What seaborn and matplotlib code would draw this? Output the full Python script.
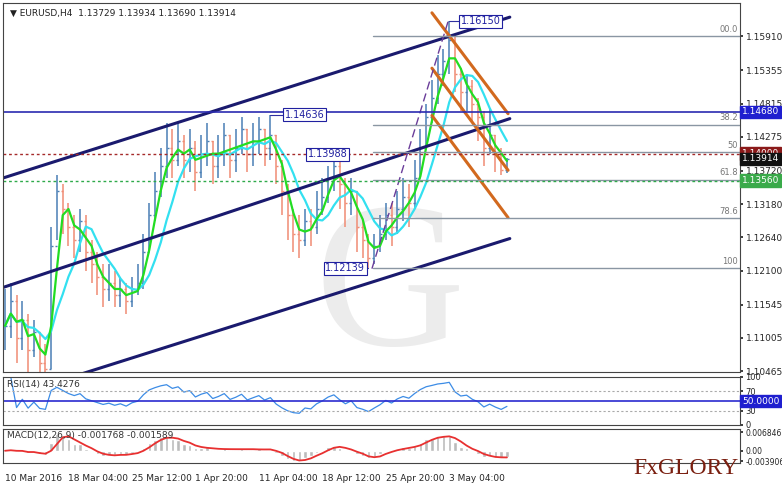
import matplotlib
matplotlib.use("Agg")
import matplotlib.pyplot as plt
import seaborn as sns
import numpy as np
import pandas as pd

sns.set_theme(style="white")
plt.rcParams['font.family'] = ['DejaVu Sans']

closes = [1.112,1.116,1.110,1.113,1.108,1.111,1.106,1.105,1.125,1.134,1.131,1.128,1.126,1.129,1.124,1.122,
          1.120,1.118,1.119,1.117,1.118,1.116,1.118,1.119,1.124,1.130,1.134,1.138,1.141,1.139,1.142,1.139,
          1.141,1.137,1.140,1.142,1.138,1.140,1.143,1.139,1.141,1.144,1.140,1.142,1.144,1.141,1.143,1.138,
          1.134,1.130,1.127,1.126,1.129,1.128,1.131,1.133,1.136,1.138,1.135,1.132,1.134,1.128,1.126,1.123,
          1.125,1.127,1.130,1.128,1.131,1.133,1.132,1.136,1.141,1.146,1.149,1.153,1.155,1.1585,1.153,1.150,
          1.151,1.148,1.146,1.141,1.143,1.140,1.1373,1.13914]
highs = [1.118,1.119,1.117,1.116,1.114,1.113,1.111,1.109,1.128,1.1365,1.135,1.132,1.130,1.131,1.130,1.126,
         1.124,1.122,1.122,1.121,1.120,1.119,1.120,1.122,1.127,1.132,1.137,1.141,1.145,1.144,1.145,1.143,
         1.144,1.142,1.143,1.145,1.142,1.143,1.145,1.143,1.144,1.146,1.144,1.145,1.146,1.144,1.14636,1.143,
         1.139,1.135,1.131,1.130,1.131,1.131,1.134,1.136,1.138,1.139,1.13988,1.136,1.136,1.134,1.129,1.127,
         1.127,1.130,1.132,1.132,1.134,1.136,1.135,1.139,1.144,1.148,1.152,1.156,1.157,1.1615,1.159,1.154,
         1.153,1.152,1.149,1.147,1.1475,1.143,1.141,1.13934]
lows = [1.108,1.110,1.106,1.108,1.104,1.107,1.104,1.1045,1.105,1.126,1.127,1.125,1.123,1.124,1.121,1.119,
        1.117,1.115,1.116,1.115,1.115,1.114,1.115,1.117,1.118,1.124,1.129,1.133,1.136,1.136,1.138,1.136,
        1.137,1.134,1.136,1.138,1.135,1.136,1.138,1.136,1.137,1.140,1.137,1.138,1.140,1.138,1.139,1.135,
        1.130,1.126,1.124,1.123,1.125,1.125,1.127,1.130,1.132,1.134,1.131,1.128,1.130,1.124,1.123,1.12139,
        1.122,1.124,1.126,1.125,1.127,1.129,1.128,1.131,1.136,1.141,1.145,1.148,1.151,1.153,1.150,1.147,
        1.147,1.145,1.142,1.138,1.140,1.137,1.1365,1.13690]
date_labels = ["10 Mar 2016","18 Mar 04:00","25 Mar 12:00","1 Apr 20:00","11 Apr 04:00","18 Apr 12:00","25 Apr 20:00","3 May 04:00"]
date_pos = [0,11,22,33,44,55,66,77]
price_ticks = [1.15910,1.15355,1.14815,1.14275,1.13720,1.13180,1.12640,1.12100,1.11545,1.11005,1.10465]
channel_lines = [((-0.5,1.1360),(87.5,1.1622)),((-0.5,1.1182),(87.5,1.1457)),((13.3,1.1042),(87.5,1.1262))]
orange_lines = [((74,1.1629),(87.2,1.1465)),((74,1.1539),(87.2,1.1373)),((74,1.1462),(87.2,1.1296))]
fib_levels = [1.1591,1.1447,1.1402,1.1358,1.1295,1.12139]
fib_names = ["00.0","38.2","50","61.8","78.6","100"]
point_labels = [(77,1.1615,"1.16150",79,1.1615),(46,1.14636,"1.14636",48.5,1.14636),(58,1.13988,"1.13988",52.5,1.13988),(63,1.12139,"1.12139",55.5,1.12139)]

n = len(closes)
idx = np.arange(n)
opens = [closes[0]] + closes[:-1]
df = pd.DataFrame({"i": idx, "c": closes, "o": opens, "h": highs, "l": lows})
df["ma_fast"] = df["c"].rolling(3, min_periods=1).mean()
df["ma_slow"] = df["c"].rolling(7, min_periods=1).mean()
d = df["c"].diff()
up = d.clip(lower=0).ewm(alpha=1/7).mean(); dn = (-d.clip(upper=0)).ewm(alpha=1/7).mean()
df["rsi"] = 100 - 100/(1+up/(dn+1e-9))
df["macd"] = df["c"].ewm(span=3).mean() - df["c"].ewm(span=6.5).mean()
df["sig"] = df["macd"].rolling(3, min_periods=1).mean()

W, H = 782, 486
fig = plt.figure(figsize=(W/100, H/100), dpi=100)
xl = (-0.35, 127.4)
ax = fig.add_axes([3/W, 1-372/H, 737/W, 369/H])
ar = fig.add_axes([3/W, 1-425/H, 737/W, 48/H])
am = fig.add_axes([3/W, 1-463/H, 737/W, 34/H])

ax.text(385/5.77, 1.117, "G", fontsize=150, color="#ececec", ha="center", va="center", family="Liberation Serif", zorder=0)

up_m = df["c"] >= df["o"]
for m, col in [(up_m, "#4a7fb5"), (~up_m, "#f08c74")]:
    s = df[m]
    ax.vlines(s["i"], s["l"], s["h"], color=col, lw=1.1)
    ax.hlines(s["c"], s["i"], s["i"]+0.35, color=col, lw=1)
    ax.hlines(s["o"], s["i"]-0.35, s["i"], color=col, lw=1)
sns.lineplot(data=df, x="i", y="ma_slow", ax=ax, color="#33e0f0", lw=1.6)
sns.lineplot(data=df, x="i", y="ma_fast", ax=ax, color="#22dd22", lw=1.6)

for (a, b) in channel_lines:
    ax.plot([a[0], b[0]], [a[1], b[1]], color="#1a1a6e", lw=2.2)
for (a, b) in orange_lines:
    ax.plot([a[0], b[0]], [a[1], b[1]], color="#d2691e", lw=2.2)
ax.plot([63.6, 76.8], [1.1213, 1.1615], color="#6a3d9a", lw=1, ls=(0, (6, 3)))
for lv, nm in zip(fib_levels, fib_names):
    ax.plot([63.8, xl[1]], [lv, lv], color="#8a96a3", lw=1)
    ax.text(xl[1]-0.3, lv+0.0004, nm, ha="right", va="bottom", fontsize=6, color="#777777")
ax.axhline(1.14680, color="#2b2bb0", lw=1.2)
ax.axhline(1.14000, color="#a52a2a", lw=1, ls=(0, (2, 2)))
ax.axhline(1.13560, color="#2eaa4a", lw=1, ls=(0, (2, 2)))
for (px, py, t, tx, ty) in point_labels:
    ax.plot([px, tx], [py, ty], color="#3030a0", lw=0.8)
    ax.text(tx, ty, t, fontsize=7, color="#2020a0", va="center", ha="left",
            bbox=dict(boxstyle="square,pad=0.15", fc="white", ec="#2020a0", lw=0.8))
ax.text(0.01, 0.985, "▼ EURUSD,H4  1.13729 1.13934 1.13690 1.13914", transform=ax.transAxes, fontsize=6.5, va="top", color="#222222")

ax.set_xlim(xl); ax.set_ylim(1.1045, 1.1645)
ax.yaxis.tick_right()
ax.set_yticks(price_ticks); ax.set_yticklabels([f"{v:.5f}" for v in price_ticks], fontsize=6.5)
ax.set_xticks([]); ax.set_xlabel(""); ax.set_ylabel("")
for lv, col, tcol in [(1.14680, "#1f1fcf", "white"), (1.14000, "#8b1a1a", "white"), (1.13914, "#111111", "white"), (1.13560, "#3aaa4a", "white")]:
    ax.text(1.003, (lv-1.1045)/0.06, f"{lv:.5f}", transform=ax.transAxes, fontsize=6.5, color=tcol, va="center",
            bbox=dict(boxstyle="square,pad=0.2", fc=col, ec=col))

sns.lineplot(data=df, x="i", y="rsi", ax=ar, color="#3c8ce6", lw=0.9)
ar.axhline(50, color="#2b2bcf", lw=1.2)
for lv in (70, 30):
    ar.axhline(lv, color="#aaaaaa", lw=0.8, ls=(0, (2, 2)))
ar.set_xlim(xl); ar.set_ylim(0, 100)
ar.yaxis.tick_right(); ar.set_yticks([100, 70, 30, 0]); ar.set_yticklabels(["100", "70", "30", "0"], fontsize=6)
ar.set_xticks([]); ar.set_xlabel(""); ar.set_ylabel("")
ar.text(0.005, 0.93, "RSI(14) 43.4276", transform=ar.transAxes, fontsize=6.5, va="top", color="#333333")
ar.text(1.003, 0.5, "50.0000", transform=ar.transAxes, fontsize=6.5, color="white", va="center",
        bbox=dict(boxstyle="square,pad=0.2", fc="#1f1fcf", ec="#1f1fcf"))

am.bar(df["i"], df["macd"], width=0.6, color="#bbbbbb")
sns.lineplot(data=df, x="i", y="sig", ax=am, color="#e83030", lw=1.3)
am.set_xlim(xl); am.set_ylim(-0.0045, 0.0080)
am.yaxis.tick_right(); am.set_yticks([0.006846, 0.0, -0.003906]); am.set_yticklabels(["0.006846", "0.00", "-0.003906"], fontsize=5.5)
am.set_ylabel(""); am.set_xlabel("")
am.set_xticks(date_pos); am.set_xticklabels(date_labels, fontsize=6.5, ha="left")
am.tick_params(axis="x", pad=6, length=2)
am.text(0.005, 0.93, "MACD(12,26,9) -0.001768 -0.001589", transform=am.transAxes, fontsize=6.5, va="top", color="#333333")
fig.text(686/W, 1-468/H, "FxGLORY", fontsize=17, color="#7a1f10", family="Liberation Serif", ha="center", va="center")

for a in (ax, ar, am):
    for s in a.spines.values():
        s.set_color("#444444"); s.set_linewidth(0.8)
    a.tick_params(axis="y", length=2, pad=2)
fig.savefig("out.png", dpi=100)
